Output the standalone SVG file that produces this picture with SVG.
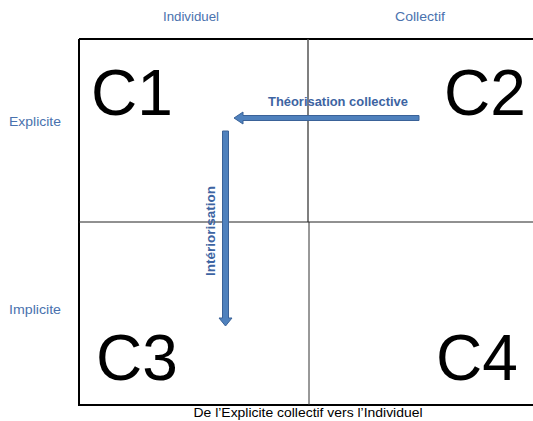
<svg xmlns="http://www.w3.org/2000/svg" width="533" height="421" viewBox="0 0 533 421">
<style>
.axis{font-family:"Liberation Sans",Arial,sans-serif;font-size:13px;fill:#4A72AE;text-anchor:middle}
.big{font-family:"Liberation Sans",Arial,sans-serif;font-size:64px;fill:#000}
.lbl{font-family:"Liberation Sans",Arial,sans-serif;font-size:12.5px;font-weight:bold;fill:#3D64A2;text-anchor:middle}
.arrow{fill:#4F81BD;stroke:#3A6298;stroke-width:1}
</style>
<rect width="533" height="421" fill="#fff"/>
<g id="grid">
<path d="M79,39 H540 M79,39 V405 H540" fill="none" stroke="#000" stroke-width="2"/>
<path d="M308,39 V222" stroke="#555" stroke-width="1.5"/>
<path d="M309,222 V405" stroke="#333" stroke-width="1"/>
<path d="M79,222 H540" stroke="#222" stroke-width="1"/>
</g>
<g id="axes">
<text class="axis" x="191" y="21" textLength="56" lengthAdjust="spacingAndGlyphs">Individuel</text>
<text class="axis" x="420" y="21" textLength="50" lengthAdjust="spacingAndGlyphs">Collectif</text>
<text class="axis" x="35" y="126" textLength="52" lengthAdjust="spacingAndGlyphs">Explicite</text>
<text class="axis" x="35" y="314" textLength="52" lengthAdjust="spacingAndGlyphs">Implicite</text>
<text x="308" y="417" textLength="229" lengthAdjust="spacingAndGlyphs" style="font-family:'Liberation Sans',Arial,sans-serif;font-size:13px;fill:#000;text-anchor:middle">De l’Explicite collectif vers l’Individuel</text>
</g>
<g id="C1"><text class="big" x="91" y="115">C1</text></g>
<g id="C2"><text class="big" x="444" y="115">C2</text></g>
<g id="C3"><text class="big" x="96" y="380">C3</text></g>
<g id="C4"><text class="big" x="436" y="380">C4</text></g>
<g id="connectors">
<g id="theorisation">
<path class="arrow" d="M419,115.5 V120.5 H243 V124 L234,118 L243,112 V115.5 Z"/>
<text class="lbl" x="338" y="106" textLength="140" lengthAdjust="spacingAndGlyphs">Théorisation collective</text>
</g>
<g id="interiorisation">
<path class="arrow" d="M222.5,131 H228.5 V318 H232 L225.5,326 L219,318 H222.5 Z"/>
<text class="lbl" transform="translate(214.5,231) rotate(-90)" textLength="90" lengthAdjust="spacingAndGlyphs">Intériorisation</text>
</g>
</g>
</svg>
